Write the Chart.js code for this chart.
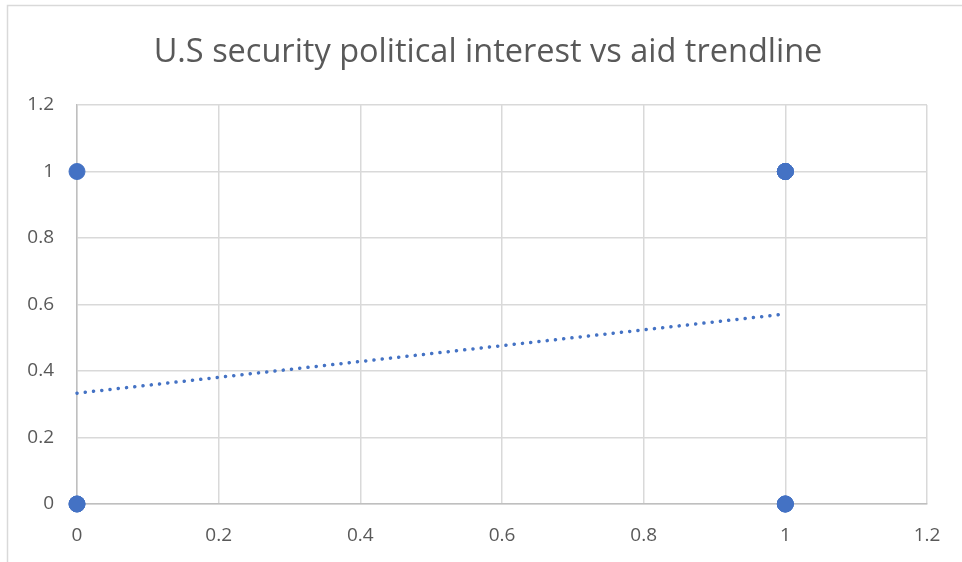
<!DOCTYPE html>
<html>
<head>
<meta charset="utf-8">
<title>U.S security political interest vs aid trendline</title>
<script src="https://cdn.jsdelivr.net/npm/chart.js@4.4.1/dist/chart.umd.min.js"></script>
<style>
  html, body { margin: 0; padding: 0; background: #fff; }
  #wrap { width: 962px; height: 562px; position: relative; }
</style>
</head>
<body>
<div id="wrap"><canvas id="aidChart" width="962" height="562"></canvas></div>
<script>
// observations: aid (x) vs security/political interest (y), several overlap
var aidX = [0, 0, 0, 1, 1, 1, 1, 1, 1, 1];
var interestY = [0, 0, 1, 0, 0, 0, 1, 1, 1, 1];
var xTicks = [0, 0.2, 0.4, 0.6, 0.8, 1, 1.2];
var yTicks = [0, 0.2, 0.4, 0.6, 0.8, 1, 1.2];
var chartTitle = 'U.S security political interest vs aid trendline';

var points = aidX.map(function(x, i) { return { x: x, y: interestY[i] }; });

// least squares trendline over the x range of the data
function linearFit(xs, ys) {
    var n = xs.length, sx = 0, sy = 0, sxx = 0, sxy = 0;
    for (var i = 0; i < n; i++) {
        sx += xs[i]; sy += ys[i];
        sxx += xs[i] * xs[i]; sxy += xs[i] * ys[i];
    }
    var slope = (n * sxy - sx * sy) / (n * sxx - sx * sx);
    return { slope: slope, intercept: (sy - slope * sx) / n };
}
var fit = linearFit(aidX, interestY);
var xMin = Math.min.apply(null, aidX), xMax = Math.max.apply(null, aidX);
var trend = [xMin, xMax].map(function(x) { return { x: x, y: fit.intercept + fit.slope * x }; });

var textColor = '#595959';
var tickFont = { family: "'Open Sans', sans-serif", size: 19 };

function plainNumber(v) { return String(Math.round(v * 10) / 10); }

// white background, the thin frame, and the title centred on the frame
var frame = {
    id: 'frame',
    beforeDraw: function(chart) {
        var c = chart.ctx;
        c.save();
        c.fillStyle = '#fff';
        c.fillRect(0, 0, chart.width, chart.height);
        c.strokeStyle = '#d9d9d9';
        c.lineWidth = 1.5;
        c.strokeRect(7.5, 5.5, chart.width + 10, chart.height + 10);
        c.fillStyle = textColor;
        c.font = "32.5px 'Open Sans', sans-serif";
        c.textAlign = 'center';
        c.textBaseline = 'middle';
        c.fillText(chartTitle, 488, 53);
        c.restore();
    }
};

var ctx = document.getElementById('aidChart').getContext('2d');
var aidChart = new Chart(ctx, {
    type: 'scatter',
    data: {
        datasets: [{
            label: 'Trendline',
            type: 'line',
            data: trend,
            borderColor: '#4472c4',
            borderWidth: 3.5,
            borderDash: [0.1, 8.2],
            borderCapStyle: 'round',
            pointRadius: 0,
            fill: false,
            clip: false,
            order: 2
        }, {
            label: 'Interest',
            data: points,
            backgroundColor: '#4472c4',
            borderColor: '#4472c4',
            pointRadius: 8,
            pointHoverRadius: 8,
            clip: false,
            order: 1
        }]
    },
    options: {
        responsive: false,
        animation: false,
        layout: { padding: { left: 0, right: 35, top: 105, bottom: 0 } },
        plugins: {
            legend: { display: false },
            tooltip: { enabled: false },
            title: { display: false }
        },
        scales: {
            x: {
                type: 'linear',
                min: 0,
                max: 1.2,
                afterBuildTicks: function(scale) {
                    scale.ticks = xTicks.map(function(v) { return { value: v }; });
                },
                afterFit: function(scale) { scale.height = 58; },
                grid: { color: '#d9d9d9', lineWidth: 1.5, drawTicks: false },
                border: { color: '#bfbfbf', width: 1.5 },
                ticks: { color: textColor, font: tickFont, padding: 20, maxRotation: 0,
                         callback: plainNumber }
            },
            y: {
                type: 'linear',
                min: 0,
                max: 1.2,
                afterBuildTicks: function(scale) {
                    scale.ticks = yTicks.map(function(v) { return { value: v }; });
                },
                afterFit: function(scale) { scale.width = 77; },
                grid: { color: '#d9d9d9', lineWidth: 1.5, drawTicks: false },
                border: { color: '#bfbfbf', width: 1.5 },
                ticks: { color: textColor, font: tickFont, padding: 23,
                         callback: plainNumber }
            }
        }
    },
    plugins: [frame]
});
</script>
</body>
</html>
